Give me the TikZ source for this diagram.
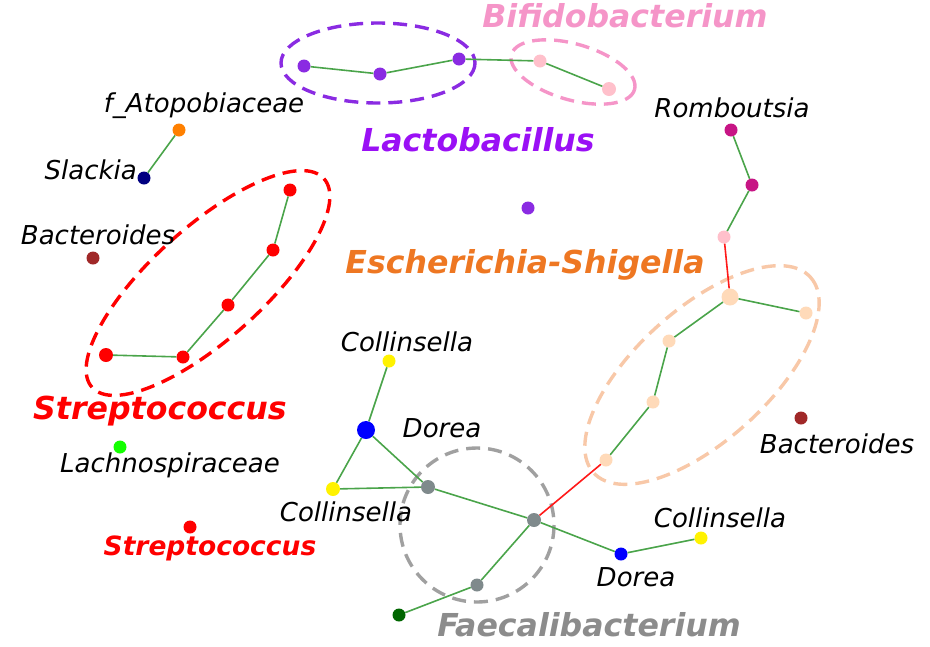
\documentclass[tikz,border=0pt]{standalone}
\usepackage{fontspec}
\setmainfont{DejaVu Sans}
\begin{document}
\begin{tikzpicture}[x=1pt,y=-1pt,
  dot/.style={circle,inner sep=0pt,minimum size=13pt},
  edge/.style={draw=edgegreen,line width=1.6pt},
  redge/.style={draw=red!90,line width=1.6pt},
  grp/.style={dashed,line width=3.4pt,dash pattern=on 14pt off 8pt},
  lab/.style={font=\fontsize{26}{26}\selectfont\itshape,text=black,inner sep=0pt},
  big/.style={font=\fontsize{31.6}{32}\selectfont\bfseries\itshape,inner sep=0pt},
  med/.style={font=\fontsize{26.5}{27}\selectfont\bfseries\itshape,inner sep=0pt}]
\definecolor{edgegreen}{HTML}{4AA44A}
\definecolor{lacto}{HTML}{8A2BE2}
\definecolor{lactot}{HTML}{9A10F5}
\definecolor{bifi}{HTML}{F595C8}
\definecolor{bifin}{HTML}{FFC0CB}
\definecolor{esch}{HTML}{EE7722}
\definecolor{peach}{HTML}{FFDAB9}
\definecolor{peachl}{HTML}{F8C8A8}
\definecolor{grey}{HTML}{7F8A8C}
\definecolor{greyl}{HTML}{A0A0A0}
\definecolor{faec}{HTML}{8C8C8C}
\definecolor{romb}{HTML}{C71585}
\definecolor{brn}{HTML}{A02828}
\useasboundingbox (0,0) rectangle (930,646);
% group ellipses
\draw[grp,lacto] (378,63) ellipse [x radius=97, y radius=40];
\draw[grp,bifi,rotate around={-16:(573,72)}] (573,72) ellipse [x radius=64, y radius=28];
\draw[grp,red,rotate around={42:(208,283)}] (208,283) ellipse [x radius=156, y radius=56];
\draw[grp,peachl,rotate around={42:(702,375)}] (702,375) ellipse [x radius=146, y radius=66];
\draw[grp,greyl] (477,525) circle [radius=77];
% nodes
\node[dot,fill=lacto] (l1) at (304,66) {};
\node[dot,fill=lacto] (l2) at (380,74) {};
\node[dot,fill=lacto] (l3) at (459,59) {};
\node[dot,fill=bifin] (b1) at (540,61) {};
\node[dot,fill=bifin,minimum size=14pt] (b2) at (609,89) {};
\node[dot,fill=orange] (fa) at (179,130) {};
\node[dot,fill=blue!50!black] (sl) at (144,178) {};
\node[dot,fill=brn] (ba1) at (93,258) {};
\node[dot,fill=red] (s1) at (290,190) {};
\node[dot,fill=red] (s2) at (273,250) {};
\node[dot,fill=red] (s3) at (228,305) {};
\node[dot,fill=red] (s4) at (183,357) {};
\node[dot,fill=red,minimum size=14pt] (s5) at (106,355) {};
\node[dot,fill=green!90!lime] (la) at (120,447) {};
\node[dot,fill=red] (s6) at (190,527) {};
\node[dot,fill=lacto] (cp) at (528,208) {};
\node[dot,fill=romb] (r1) at (731,130) {};
\node[dot,fill=romb] (r2) at (752,185) {};
\node[dot,fill=bifin] (pk) at (724,237) {};
\node[dot,fill=peach,minimum size=17pt] (e1) at (730,297) {};
\node[dot,fill=peach] (e2) at (806,313) {};
\node[dot,fill=peach] (e3) at (669,341) {};
\node[dot,fill=peach] (e4) at (653,402) {};
\node[dot,fill=peach] (e5) at (606,460) {};
\node[dot,fill=brn] (ba2) at (801,418) {};
\node[dot,fill=yellow] (c1) at (389,361) {};
\node[dot,fill=blue,minimum size=18pt] (bl) at (366,430) {};
\node[dot,fill=yellow,minimum size=14pt] (c2) at (333,489) {};
\node[dot,fill=grey,minimum size=14pt] (g1) at (428,487) {};
\node[dot,fill=grey,minimum size=14pt] (f1) at (534,520) {};
\node[dot,fill=grey] (g3) at (477,585) {};
\node[dot,fill=green!40!black] (dg) at (399,615) {};
\node[dot,fill=blue] (d2) at (621,554) {};
\node[dot,fill=yellow] (c3) at (701,538) {};
% edges
\draw[edge] (l1) -- (l2) -- (l3) -- (b1) -- (b2);
\draw[edge] (fa) -- (sl);
\draw[edge] (s1) -- (s2) -- (s3) -- (s4) -- (s5);
\draw[edge] (r1) -- (r2) -- (pk);
\draw[redge] (pk) -- (e1);
\draw[edge] (e1) -- (e2);
\draw[edge] (e1) -- (e3) -- (e4) -- (e5);
\draw[redge] (e5) -- (f1);
\draw[edge] (c1) -- (bl) -- (c2) -- (g1);
\draw[edge] (bl) -- (g1) -- (f1);
\draw[edge] (f1) -- (g3) -- (dg);
\draw[edge] (f1) -- (d2) -- (c3);
% labels
\node[big,text=bifi] (tbif) at (625,16) {Bifidobacterium};
\node[big,text=lactot] (tlac) at (478,140) {Lactobacillus};
\node[big,text=esch] (tesc) at (525,265) {Escherichia-Shigella};
\node[big,text=red] (tstr) at (160,411) {Streptococcus};
\node[med,text=red] (tstr2) at (210,548) {Streptococcus};
\node[big,text=faec] (tfae) at (589,625) {Faecalibacterium};
\node[lab] (tfa) at (204,106) {f\_Atopobiaceae};
\node[lab,anchor=east] (tsl) at (137,170) {Slackia};
\node[lab] (tba1) at (98,235) {Bacteroides};
\node[lab] (tla) at (170,465) {Lachnospiraceae};
\node[lab] (tro) at (732,108) {Romboutsia};
\node[lab] (tba2) at (837,444) {Bacteroides};
\node[lab] (tc1) at (407,342) {Collinsella};
\node[lab] (tdo1) at (442,428) {Dorea};
\node[lab] (tc2) at (346,512) {Collinsella};
\node[lab] (tc3) at (720,518) {Collinsella};
\node[lab] (tdo2) at (636,577) {Dorea};
\end{tikzpicture}
\end{document}
